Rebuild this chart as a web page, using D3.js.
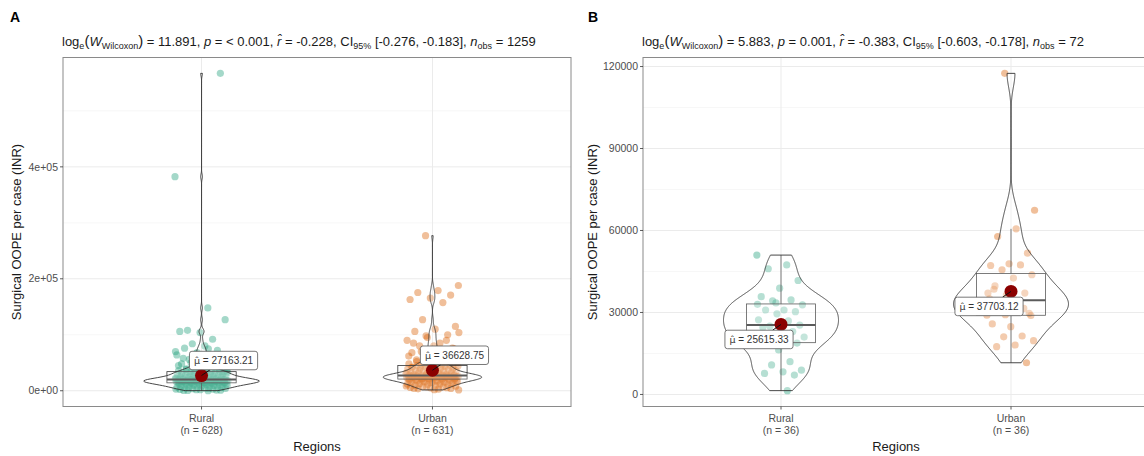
<!DOCTYPE html>
<meta charset="utf-8">
<head>
  <style>
    body { margin: 0; background: #fff; }
    svg { font-family: "Liberation Sans", Arial, sans-serif; }
    .grid-major { stroke: #ebebeb; stroke-width: 1px; }
    .grid-minor { stroke: #f5f5f5; stroke-width: 0.8px; }
    .border { fill: none; stroke: #8a8a8a; stroke-width: 1px; }
    .tick { stroke: #333; stroke-width: 0.8px; }
    .ticklab { fill: #4d4d4d; font-size: 10.5px; }
    .axtitle { fill: #1a1a1a; font-size: 13px; }
    .subtitle { fill: #1a1a1a; font-size: 13px; white-space: pre; }
    .tag { font-size: 14px; font-weight: bold; }
    .violin { fill: #fff; fill-opacity: 0.2; stroke: #333; stroke-width: 0.9px; }
    .box { fill: #fff; fill-opacity: 0.2; stroke: #333; stroke-width: 0.8px; }
    .median { stroke: #333; stroke-width: 2px; }
    .whisker { stroke: #333; stroke-width: 0.8px; }
    .mean { fill: #8b0000; }
    .leader { stroke: #111; stroke-width: 1px; }
    .lab rect { fill: #fff; stroke: #555; stroke-width: 0.8px; }
    .lab text { fill: #333; font-size: 10px; white-space: pre; }
    .lab .mu { font-family: "DejaVu Sans", sans-serif; font-size: 9.5px; }
  </style>
  <script src="https://cdn.jsdelivr.net/npm/d3@7"></script>
</head>
<body>
<script>
  // ---- data ----
  var categories = ["Rural", "Urban"];
  var colors = ["#1b9e77", "#d95f02"];

  var groupSizesA = [628, 631];
  var groupSizesB = [36, 36];

  // panel A: the dense clouds are estimated, outliers read one by one
  var ruralA = [382500, 148000, 108000, 567000, 104000, 106000, 92000, 84000, 127000, 80000,
    76000, 72000, 68000, 64000, 60000, 56000, 52000, 50000, 48000, 46000,
    44000, 42000, 40000, 39000, 38000, 37000, 36000, 35500, 35000, 34500,
    21300, 21800, 22000, 22500, 23000, 23500, 24000, 24500, 25000, 25000,
    25500, 26000, 26500, 27000, 27500, 28000, 28500, 29000, 29500, 30000,
    30000, 30500, 31000, 31500, 32000, 32500, 33000, 33500, 33800, 34000,
    14200, 14600, 15000, 15000, 15100, 15600, 15900, 16000, 16000, 16200,
    16700, 17000, 17000, 17200, 17500, 18000, 18000, 18000, 18400, 18500,
    19000, 19000, 19200, 19800, 20000, 20000, 20000, 20400, 20700, 21000,
    200, 600, 900, 1800, 2300, 3000, 3600, 4000, 4800, 5000,
    5700, 6000, 6500, 7200, 7500, 8000, 8800, 9000, 9500, 10000,
    10000, 10800, 11000, 11500, 12000, 12000, 12500, 13000, 13500, 14000,
    500, 1000, 2000, 3000, 4500, 5000, 6000, 7000, 8000, 9000,
    10000, 11000, 12000, 13000, 13800, 14500, 15000, 15000, 15500, 16000,
    16000, 16500, 17000, 17500, 18000, 18000, 18500, 19000, 19500, 20000,
    20000, 20500, 21000, 15200, 16800, 17800, 19500, 22000, 24000, 25000,
    27000, 28000, 30000, 31000, 33000, 35000, 36000, 38000, 40000, 42000,
    45000, 48000, 50000, 52000, 55000, 58000, 62000, 66000, 70000, 75000];

  var urbanA = [277000, 188000, 179000, 175500, 171000, 165500, 163000, 157500, 127000, 115000,
    110000, 106000, 100000, 95000, 90000, 85000, 80000, 76000, 72000, 68000,
    64000, 60000, 57000, 54000, 52000, 50000, 50000, 48000, 47000, 46000,
    28500, 29000, 29500, 30000, 30000, 30500, 31000, 32000, 32500, 33000,
    34000, 35000, 35000, 35500, 36000, 37000, 38000, 38500, 39000, 40000,
    40000, 40500, 41000, 42000, 42500, 43000, 44000, 44500, 45000, 45000,
    21000, 21200, 21500, 22000, 22000, 22300, 22800, 23000, 23000, 23500,
    24000, 24000, 24200, 24600, 25000, 25000, 25000, 25400, 25800, 26000,
    26000, 26300, 26700, 27000, 27000, 27200, 27500, 27800, 28000, 28000,
    1500, 2800, 3500, 4200, 5000, 6000, 6800, 7500, 8200, 9000,
    10000, 10500, 11000, 12000, 12500, 13000, 14000, 14600, 15000, 15000,
    15800, 16200, 17000, 17500, 18000, 18500, 19000, 19600, 20000, 20500,
    2000, 4000, 5500, 7000, 8500, 10000, 11500, 12500, 14000, 15000,
    16000, 17000, 18000, 19000, 20000, 21000, 21500, 22000, 22500, 23000,
    23500, 24000, 24500, 25000, 25000, 25500, 26000, 26000, 26500, 27000,
    27500, 28000, 22000, 23000, 24000, 25000, 26000, 30000, 32000, 34000,
    36000, 38000, 40000, 42000, 44000, 48000, 50000, 52000, 55000, 58000,
    60000, 62000, 65000, 70000, 75000, 80000, 85000, 90000, 98000, 104000];

  var ruralB = [51000, 47400, 46000, 41700, 38900, 35800, 34600, 34300, 32800, 30900,
    30900, 30300, 29500, 27300, 26900, 25000, 25400, 25400, 24500, 23000,
    22000, 21000, 19900, 19500, 18800, 16300, 19000, 12000, 10800, 8900,
    8300, 7700, 7100, 33500, 33000, 1400];

  var urbanB = [117500, 67400, 60600, 57800, 51700, 47800, 47200, 47400, 45600, 43800,
    42600, 39700, 37100, 36400, 37100, 32800, 30900, 29700, 24800, 25800,
    21400, 21100, 19700, 18100, 17500, 11600, 34000, 35000, 33500, 30500,
    28900, 38000, 38500, 31500, 29200, 29000];

  var meansA = [27163.21, 36628.75];
  var meansB = [25615.33, 37703.12];

  var ticksA = [0, 200000, 400000];
  var tickLabelsA = ["0e+00", "2e+05", "4e+05"];
  var ticksB = [0, 30000, 60000, 90000, 120000];
  var tickLabelsB = ["0", "30000", "60000", "90000", "120000"];

  // log_e(W), p, r-hat, CI low, CI high, n_obs
  var statsA = ["11.891", "< 0.001", "-0.228", "-0.276", "-0.183", "1259"];
  var statsB = ["5.883", "0.001", "-0.383", "-0.603", "-0.178", "72"];

  var yTitle = "Surgical OOPE per case (INR)";
  var xTitle = "Regions";

  // ---- layout ----
  var W = 1144, H = 456, plotTop = 57.5, plotBottom = 406.5;

  var panels = [
    {tag: "A", tagX: 10, left: 63, right: 571, yTitleX: 16, groups: [ruralA, urbanA],
     sizes: groupSizesA, means: meansA, ticks: ticksA, tickLabels: tickLabelsA, stats: statsA,
     labelDx: 22, labelDy: -15, jitter: 0.23},
    {tag: "B", tagX: 588, left: 643, right: 1149, yTitleX: 592, groups: [ruralB, urbanB],
     sizes: groupSizesB, means: meansB, ticks: ticksB, tickLabels: tickLabelsB, stats: statsB,
     labelDx: -22, labelDy: 15, jitter: 0.21}
  ];

  var svg = d3.select("body").append("svg")
      .attr("width", W)
      .attr("height", H);

  var fmt2 = d3.format(".2f");

  panels.forEach(drawPanel);

  function drawPanel(p) {
    var all = d3.merge(p.groups),
        ext = d3.extent(all),
        pad = (ext[1] - ext[0]) * 0.05;

    var y = d3.scaleLinear().domain([ext[0] - pad, ext[1] + pad]).range([plotBottom, plotTop]);
    var x = d3.scalePoint().domain(categories).range([p.left, p.right]).padding(0.6);
    var step = x.step();

    var g = svg.append("g");

    // grid
    var minor = [];
    for (var i = 0; i < p.ticks.length; i++) {
      var nxt = i < p.ticks.length - 1 ? p.ticks[i + 1] : p.ticks[i] * 2 - p.ticks[i - 1];
      var mid = (p.ticks[i] + nxt) / 2;
      if (mid < y.domain()[1]) minor.push(mid);
    }
    g.selectAll(".grid-minor").data(minor).enter().append("line")
        .attr("class", "grid-minor")
        .attr("x1", p.left).attr("x2", p.right)
        .attr("y1", function(d) { return y(d); }).attr("y2", function(d) { return y(d); });
    g.selectAll(".grid-major").data(p.ticks).enter().append("line")
        .attr("class", "grid-major")
        .attr("x1", p.left).attr("x2", p.right)
        .attr("y1", function(d) { return y(d); }).attr("y2", function(d) { return y(d); });
    g.selectAll(".grid-v").data(categories).enter().append("line")
        .attr("class", "grid-major")
        .attr("x1", function(d) { return x(d); }).attr("x2", function(d) { return x(d); })
        .attr("y1", plotTop).attr("y2", plotBottom);

    // jittered points
    p.groups.forEach(function(vals, gi) {
      var cx = x(categories[gi]);
      g.append("g").selectAll("circle").data(vals).enter().append("circle")
          .attr("cx", function(d, i) { return cx + (((i * 0.6180339887 + gi * 0.37) % 1) - 0.5) * p.jitter * step; })
          .attr("cy", function(d) { return y(d); })
          .attr("r", 3.6)
          .attr("fill", colors[gi])
          .attr("fill-opacity", 0.4);
    });

    // boxplots
    p.groups.forEach(function(vals, gi) {
      var s = vals.slice().sort(d3.ascending),
          q1 = d3.quantile(s, 0.25), q2 = d3.quantile(s, 0.5), q3 = d3.quantile(s, 0.75),
          iqr = q3 - q1,
          lo = d3.min(s.filter(function(v) { return v >= q1 - 1.5 * iqr; })),
          hi = d3.max(s.filter(function(v) { return v <= q3 + 1.5 * iqr; })),
          cx = x(categories[gi]), hw = 0.15 * step;
      g.append("line").attr("class", "whisker").attr("x1", cx).attr("x2", cx).attr("y1", y(q3)).attr("y2", y(hi));
      g.append("line").attr("class", "whisker").attr("x1", cx).attr("x2", cx).attr("y1", y(q1)).attr("y2", y(lo));
      g.append("rect").attr("class", "box")
          .attr("x", cx - hw).attr("width", 2 * hw)
          .attr("y", y(q3)).attr("height", y(q1) - y(q3));
      g.append("line").attr("class", "median")
          .attr("x1", cx - hw).attr("x2", cx + hw).attr("y1", y(q2)).attr("y2", y(q2));
    });

    // violins (gaussian kde, bw.nrd0, trimmed, area-scaled)
    var dens = p.groups.map(function(vals) { return kde(vals, 512); });
    var dmax = d3.max(dens, function(d) { return d3.max(d, function(e) { return e[1]; }); });
    dens.forEach(function(d, gi) {
      var cx = x(categories[gi]);
      var w = function(e) { return e[1] / dmax * 0.25 * step; };
      var pts = d.map(function(e) { return [cx + w(e), y(e[0])]; })
          .concat(d.slice().reverse().map(function(e) { return [cx - w(e), y(e[0])]; }));
      g.append("path").attr("class", "violin").attr("d", d3.line()(pts) + "Z");
    });

    // means and labels
    p.means.forEach(function(m, gi) {
      var cx = x(categories[gi]), cy = y(m);
      g.append("circle").attr("class", "mean").attr("cx", cx).attr("cy", cy).attr("r", 6.5);

      var lab = g.append("g").attr("class", "lab")
          .attr("transform", "translate(" + (cx + p.labelDx) + "," + (cy + p.labelDy) + ")");
      var txt = lab.append("text")
          .attr("text-anchor", "middle").attr("dy", "0.35em");
      txt.append("tspan").attr("class", "mu").text("\u03bc\u0302");
      txt.append("tspan").text(" = " + fmt2(m));
      var bw = txt.node().getComputedTextLength() + 9, bh = 18.5;
      var t = Math.min(bw / 2 / Math.abs(p.labelDx), bh / 2 / Math.abs(p.labelDy));
      g.insert("line", function() { return lab.node(); }).attr("class", "leader")
          .attr("x1", cx).attr("y1", cy)
          .attr("x2", cx + p.labelDx * (1 - t)).attr("y2", cy + p.labelDy * (1 - t));
      lab.insert("rect", "text")
          .attr("x", -bw / 2).attr("y", -bh / 2).attr("width", bw).attr("height", bh)
          .attr("rx", 2.5);
    });

    // frame, axes
    g.append("rect").attr("class", "border")
        .attr("x", p.left).attr("y", plotTop).attr("width", p.right - p.left).attr("height", plotBottom - plotTop);

    p.ticks.forEach(function(t, i) {
      g.append("line").attr("class", "tick")
          .attr("x1", p.left - 3).attr("x2", p.left).attr("y1", y(t)).attr("y2", y(t));
      g.append("text").attr("class", "ticklab")
          .attr("x", p.left - 5).attr("y", y(t)).attr("dy", "0.35em")
          .attr("text-anchor", "end").text(p.tickLabels[i]);
    });

    categories.forEach(function(c, i) {
      g.append("line").attr("class", "tick")
          .attr("x1", x(c)).attr("x2", x(c)).attr("y1", plotBottom).attr("y2", plotBottom + 3);
      g.append("text").attr("class", "ticklab").attr("text-anchor", "middle")
          .attr("x", x(c)).attr("y", 422).text(c);
      g.append("text").attr("class", "ticklab").attr("text-anchor", "middle")
          .attr("x", x(c)).attr("y", 434).text("(n = " + p.sizes[i] + ")");
    });

    g.append("text").attr("class", "axtitle").attr("text-anchor", "middle")
        .attr("x", (p.left + p.right) / 2).attr("y", 451).text(xTitle);
    g.append("text").attr("class", "axtitle").attr("text-anchor", "middle")
        .attr("transform", "translate(" + p.yTitleX + "," + ((plotTop + plotBottom) / 2) + ")rotate(-90)")
        .attr("dy", "0.35em").text(yTitle);

    g.append("text").attr("class", "tag").attr("x", p.tagX).attr("y", 22).text(p.tag);
    subtitle(g, p.left - 1, 46, p.stats);
  }

  function kde(vals, n) {
    var s = vals.slice().sort(d3.ascending), len = s.length,
        sd = d3.deviation(s),
        iqr = d3.quantile(s, 0.75) - d3.quantile(s, 0.25),
        bw = 0.9 * Math.min(sd, iqr / 1.34) * Math.pow(len, -0.2),
        lo = s[0], hi = s[len - 1], k = 1 / (len * bw * Math.sqrt(2 * Math.PI));
    return d3.range(n).map(function(i) {
      var v = lo + (hi - lo) * i / (n - 1), sum = 0;
      for (var j = 0; j < len; j++) {
        var u = (v - s[j]) / bw;
        sum += Math.exp(-0.5 * u * u);
      }
      return [v, sum * k];
    });
  }

  function subtitle(g, x0, y0, s) {
    var parts = [
      ["log", ""], ["e", "sub"], ["(", "paren"], ["W", "it"], ["Wilcoxon", "sub"], [")", "paren"],
      [" = " + s[0] + ", ", ""], ["p", "it"], [" = " + s[1] + ", ", ""], ["r\u0302", "it"],
      [" = " + s[2] + ", CI", ""], ["95%", "sub"], [" [" + s[3] + ", " + s[4] + "], ", ""],
      ["n", "it"], ["obs", "sub"], [" = " + s[5], ""]
    ];
    var t = g.append("text").attr("class", "subtitle").attr("x", x0).attr("y", y0);
    var shift = 0;
    parts.forEach(function(pt) {
      var ts = t.append("tspan").text(pt[0]);
      var target = pt[1] === "sub" ? 3 : 0;
      if (target !== shift) { ts.attr("dy", target - shift); shift = target; }
      if (pt[1] === "sub") ts.style("font-size", "9px");
      if (pt[1] === "it") ts.style("font-style", "italic");
      if (pt[1] === "paren") ts.style("font-size", "15px");
    });
  }
</script>
</body>
